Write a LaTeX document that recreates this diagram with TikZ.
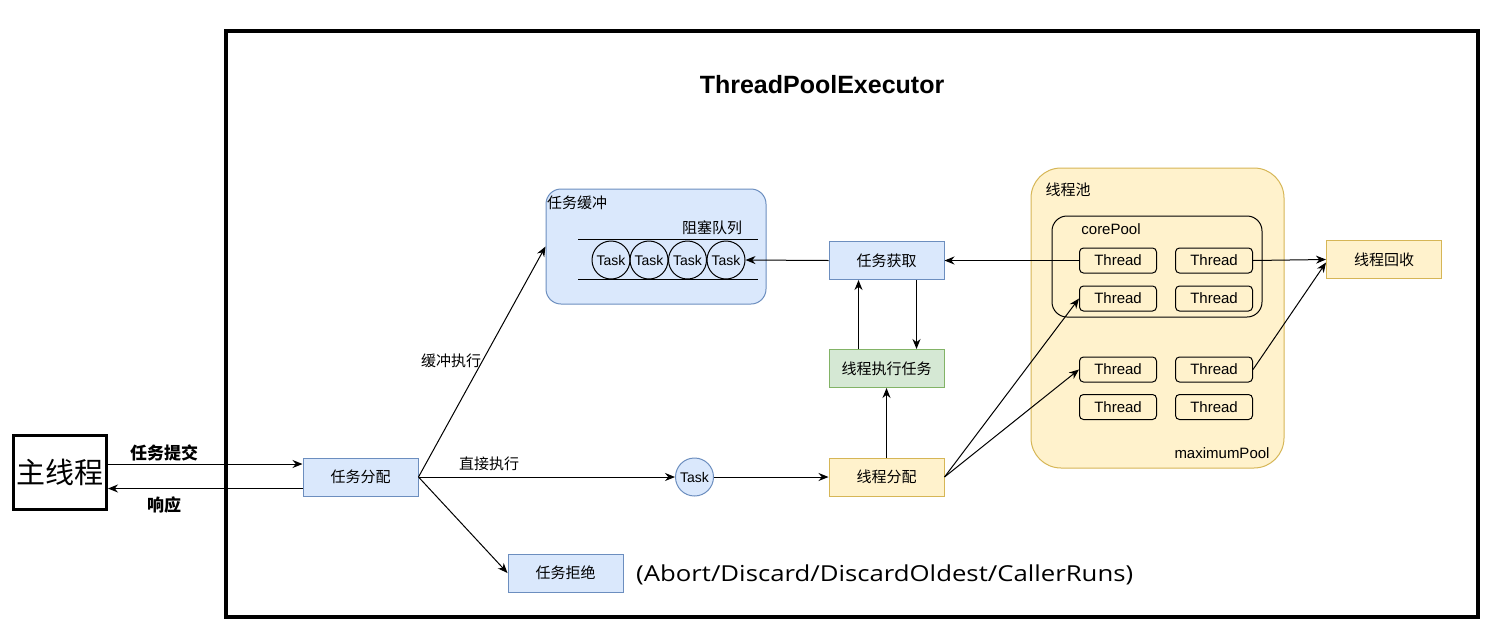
\documentclass[tikz,border=0pt]{standalone}
\usepackage{fontspec}
\setmainfont{Liberation Sans}
\newfontfamily\cjk{Noto Sans CJK SC}
\newfontfamily\wide{Open Sans}[FakeStretch=1.17]
\usetikzlibrary{arrows.meta}

\definecolor{bluefill}{HTML}{DAE8FC}
\definecolor{blueline}{HTML}{6C8EBF}
\definecolor{yelfill}{HTML}{FFF2CC}
\definecolor{yelline}{HTML}{D6B656}
\definecolor{grnfill}{HTML}{D5E8D4}
\definecolor{grnline}{HTML}{82B366}

\tikzset{
  box/.style={draw, line width=1pt, minimum width=115pt, minimum height=38pt, inner sep=0pt, font=\cjk\fontsize{15}{18}\selectfont},
  bluebox/.style={box, fill=bluefill, draw=blueline},
  yelbox/.style={box, fill=yelfill, draw=yelline},
  grnbox/.style={box, fill=grnfill, draw=grnline},
  thread/.style={draw, line width=1pt, rounded corners=4pt, fill=yelfill, minimum width=77pt, minimum height=25pt, inner sep=0pt, font=\fontsize{15}{18}\selectfont},
  taskc/.style={circle, draw, line width=1pt, minimum size=38pt, inner sep=0pt, font=\fontsize{14}{16}\selectfont},
  arr/.style={-{Stealth[length=10pt,width=8pt]}, line width=1pt},
  lbl/.style={font=\cjk\fontsize{15}{18}\selectfont, inner sep=0pt},
  en/.style={font=\fontsize{15}{18}\selectfont, inner sep=0pt}
}

\begin{document}
\begin{tikzpicture}[x=1pt, y=-1pt]

    \useasboundingbox (0,0) rectangle (1504,643);

    % Frame and title
    \draw[line width=4pt] (226,31) rectangle (1478,617);
    \node[font=\bfseries\fontsize{25}{30}\selectfont] (title) at (822,85) {ThreadPoolExecutor};

    % Main thread
    \node[draw, line width=3pt, minimum width=93pt, minimum height=74pt, inner sep=0pt, font=\cjk\fontsize{29}{34}\selectfont] (main) at (60,472.5) {主线程};

    % Containers
    \node[draw=blueline, fill=bluefill, line width=1pt, rounded corners=15pt, minimum width=220pt, minimum height=115pt] (buf) at (656,246.5) {};
    \node[draw=yelline, fill=yelfill, line width=1pt, rounded corners=30pt, minimum width=253pt, minimum height=300pt] (pool) at (1157.5,318) {};
    \node[draw, line width=1pt, rounded corners=15pt, minimum width=210pt, minimum height=101pt] (core) at (1157,266.5) {};

    % Container labels
    \node[lbl, anchor=west] (buflbl) at (547,203) {任务缓冲};
    \node[lbl] (queuelbl) at (712,228) {阻塞队列};
    \node[lbl] (poollbl) at (1068,190) {线程池};
    \node[en] (corelbl) at (1111,229) {corePool};
    \node[en] (maxlbl) at (1222,453) {maximumPool};

    % Blocking queue
    \draw[line width=1pt] (578,239) -- (758,239);
    \draw[line width=1pt] (578,279) -- (758,279);
    \foreach \i/\x in {1/611,2/649,3/687.5,4/726}
        \node[taskc] (q\i) at (\x,260) {Task};

    % Boxes
    \node[bluebox] (dist) at (360.5,477) {任务分配};
    \node[bluebox] (get) at (886.5,260.5) {任务获取};
    \node[grnbox] (exec) at (886.5,368.5) {线程执行任务};
    \node[yelbox] (assign) at (886.5,477) {线程分配};
    \node[bluebox] (rej) at (565.5,573) {任务拒绝};
    \node[yelbox] (recl) at (1384,259.5) {线程回收};
    \node[taskc, fill=bluefill, draw=blueline] (task) at (694.5,477) {Task};

    % Threads
    \foreach \r/\y in {1/260.5,2/298.5,3/369.5,4/407} {
        \node[thread] (ta\r) at (1118,\y) {Thread};
        \node[thread] (tb\r) at (1214,\y) {Thread};
    }

    % Submit and response
    \draw[arr] ([yshift=8.5pt]main.east) -- ([yshift=8.5pt]main.east -| dist.west);
    \draw[arr] ([yshift=-11.5pt]dist.west) -- ([yshift=-11.5pt]dist.west -| main.east);
    \node[font=\cjk\bfseries\fontsize{17}{20}\selectfont] (submitlbl) at (164,453) {任务提交};
    \node[font=\cjk\bfseries\fontsize{17}{20}\selectfont] (resplbl) at (164,505) {响应};

    % Dispatch
    \draw[arr] (dist.east) -- (buf.west);
    \draw[arr] (dist.east) -- (task.west);
    \draw[arr] (dist.east) -- (rej.west);
    \node[lbl] (buflbl2) at (451,361) {缓冲执行};
    \node[lbl] (directlbl) at (489,464) {直接执行};
    \node[font=\wide\fontsize{22}{26}\selectfont, anchor=west, inner sep=0pt] (policy) at (636,575) {(Abort/Discard/DiscardOldest/CallerRuns)};

    % Execution
    \draw[arr] (task.east) -- (assign.west);
    \draw[arr] (assign.north) -- (exec.south);
    \draw[arr] ([xshift=-28pt]exec.north) -- ([xshift=-28pt]get.south);
    \draw[arr] ([xshift=30pt]get.south) -- ([xshift=30pt]exec.north);
    \draw[arr] (get.west) -- (q4.east);
    \draw[arr] (ta1.west) -- (get.east);
    \draw[arr] (assign.east) -- (ta2.west);
    \draw[arr] (assign.east) -- (ta3.west);

    % Recycling
    \draw[arr] (tb1.east) -- (recl.west);
    \draw[arr] (tb3.east) -- ([yshift=-3pt]recl.west);

\end{tikzpicture}
\end{document}
